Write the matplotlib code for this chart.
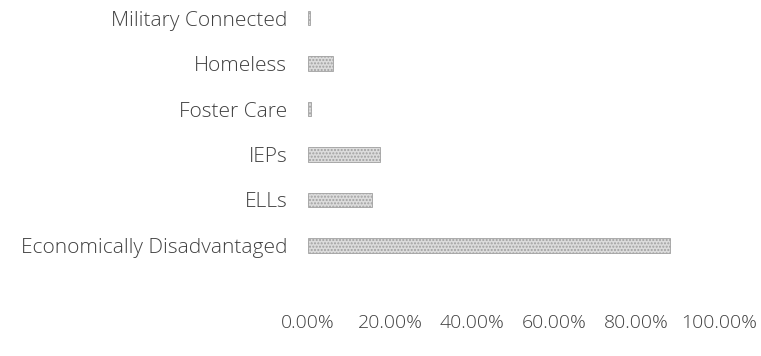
import matplotlib
matplotlib.use("Agg")
import matplotlib.pyplot as plt
from matplotlib.ticker import FuncFormatter

categories = ["Economically Disadvantaged", "ELLs", "IEPs", "Foster Care", "Homeless", "Military Connected"]
values = [88.0, 15.5, 17.5, 0.8, 6.0, 0.5]
xticks = [0, 20, 40, 60, 80, 100]

plt.rcParams['font.family'] = ['Open Sans', 'DejaVu Sans']
plt.rcParams['hatch.color'] = '#8a8a8a'
fig = plt.figure(figsize=(7.61, 3.56), dpi=100)
ax = fig.add_axes([308/761, (356-268)/356, (719-308)/761, 268/356])

y = list(range(len(categories)))
ax.barh(y, values, height=0.32, color='#dcdcdc', edgecolor='#a0a0a0', linewidth=0.6,
        hatch='.....')
ax.set_xlim(0, 100)
ax.set_ylim(-0.5, 5.4)
ax.set_yticks(y)
ax.set_yticklabels(categories, fontsize=15, color='#404040', fontweight='light')
ax.set_xticks(xticks)
ax.xaxis.set_major_formatter(FuncFormatter(lambda v, p: f"{v:.2f}%"))
for lab in ax.get_xticklabels():
    lab.set_fontweight('light')
ax.tick_params(axis='x', labelsize=14, labelcolor='#404040', length=0, pad=33)
ax.tick_params(axis='y', length=0, pad=15)
for s in ax.spines.values():
    s.set_visible(False)

fig.savefig("out.png", dpi=100)
